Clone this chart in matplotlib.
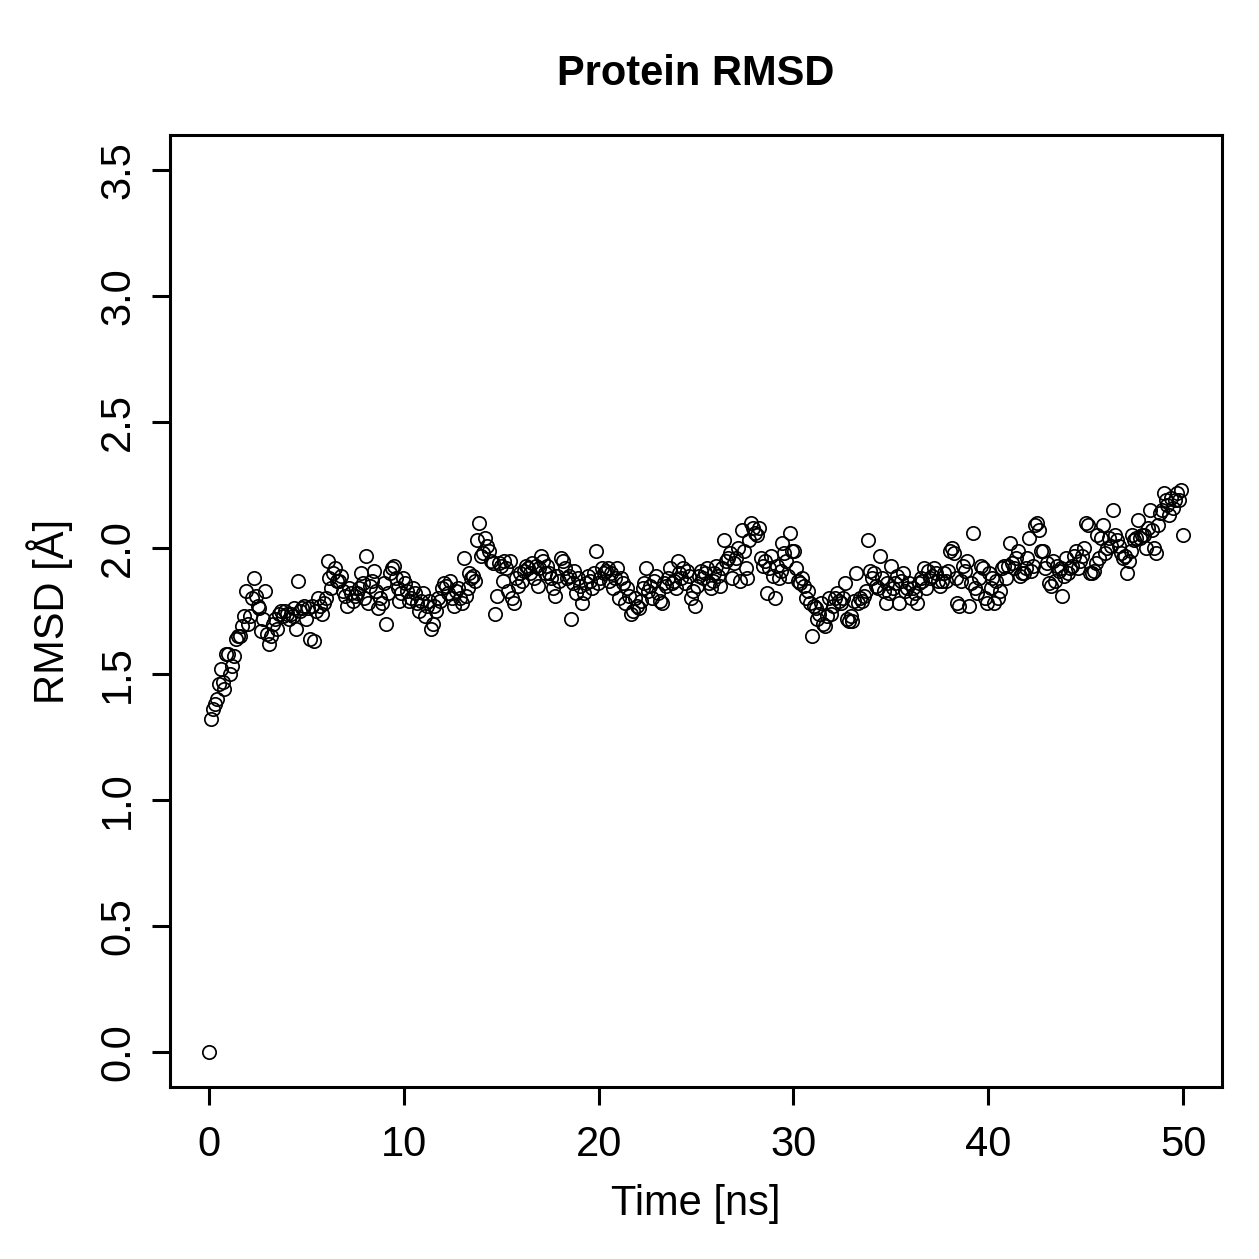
import numpy as np
import matplotlib
matplotlib.use('Agg')
import matplotlib.pyplot as plt

plt.rcParams['font.family'] = ['Liberation Sans', 'DejaVu Sans']

# RMSD values (Angstrom), one frame every 0.1 ns
rmsd = [0.00,
    1.32, 1.36, 1.38, 1.40, 1.46, 1.52, 1.47, 1.44, 1.58, 1.58,
    1.50, 1.53, 1.57, 1.64, 1.65, 1.65, 1.69, 1.73, 1.83, 1.70,
    1.73, 1.80, 1.88, 1.81, 1.77, 1.76, 1.67, 1.72, 1.83, 1.66,
    1.62, 1.65, 1.70, 1.72, 1.68, 1.74, 1.75, 1.73, 1.75, 1.74,
    1.72, 1.74, 1.73, 1.76, 1.68, 1.87, 1.75, 1.76, 1.77, 1.72,
    1.76, 1.64, 1.77, 1.63, 1.75, 1.80, 1.77, 1.74, 1.78, 1.80,
    1.95, 1.88, 1.84, 1.90, 1.92, 1.87, 1.87, 1.89, 1.83, 1.81,
    1.77, 1.84, 1.82, 1.79, 1.81, 1.82, 1.84, 1.90, 1.86, 1.80,
    1.97, 1.78, 1.85, 1.87, 1.91, 1.83, 1.76, 1.80, 1.78, 1.86,
    1.70, 1.82, 1.90, 1.92, 1.93, 1.88, 1.84, 1.79, 1.82, 1.88,
    1.86, 1.83, 1.79, 1.80, 1.84, 1.82, 1.78, 1.75, 1.79, 1.82,
    1.73, 1.77, 1.79, 1.68, 1.70, 1.77, 1.75, 1.80, 1.79, 1.84,
    1.86, 1.85, 1.82, 1.87, 1.80, 1.77, 1.83, 1.84, 1.80, 1.78,
    1.96, 1.81, 1.84, 1.90, 1.88, 1.89, 1.87, 2.03, 2.10, 1.97,
    1.98, 2.04, 2.01, 1.99, 1.95, 1.94, 1.74, 1.81, 1.94, 1.93,
    1.87, 1.95, 1.92, 1.83, 1.95, 1.80, 1.78, 1.88, 1.85, 1.90,
    1.87, 1.91, 1.93, 1.92, 1.90, 1.94, 1.88, 1.93, 1.85, 1.92,
    1.97, 1.95, 1.90, 1.93, 1.90, 1.88, 1.84, 1.81, 1.89, 1.87,
    1.96, 1.95, 1.92, 1.88, 1.89, 1.72, 1.86, 1.91, 1.82, 1.88,
    1.85, 1.78, 1.82, 1.86, 1.89, 1.87, 1.84, 1.90, 1.99, 1.86,
    1.88, 1.92, 1.90, 1.91, 1.92, 1.87, 1.90, 1.84, 1.88, 1.92,
    1.80, 1.88, 1.86, 1.78, 1.84, 1.81, 1.74, 1.75, 1.80, 1.77,
    1.76, 1.79, 1.84, 1.86, 1.92, 1.83, 1.85, 1.80, 1.87, 1.89,
    1.82, 1.79, 1.78, 1.86, 1.85, 1.88, 1.92, 1.86, 1.87, 1.84,
    1.95, 1.90, 1.88, 1.92, 1.86, 1.91, 1.89, 1.80, 1.83, 1.77,
    1.85, 1.89, 1.91, 1.88, 1.90, 1.92, 1.86, 1.84, 1.87, 1.90,
    1.93, 1.89, 1.85, 1.92, 2.03, 1.95, 1.96, 1.98, 1.88, 1.94,
    1.96, 2.00, 1.87, 2.07, 1.99, 1.92, 1.88, 2.03, 2.10, 2.08,
    2.06, 2.05, 2.08, 1.96, 1.93, 1.95, 1.82, 1.92, 1.97, 1.89,
    1.80, 1.93, 1.88, 1.91, 2.02, 1.98, 1.95, 1.89, 2.06, 1.99,
    1.99, 1.92, 1.87, 1.86, 1.88, 1.85, 1.80, 1.83, 1.78, 1.65,
    1.77, 1.76, 1.72, 1.74, 1.78, 1.70, 1.69, 1.73, 1.80, 1.74,
    1.77, 1.80, 1.82, 1.79, 1.78, 1.80, 1.86, 1.72, 1.71, 1.73,
    1.71, 1.79, 1.90, 1.78, 1.80, 1.79, 1.81, 1.83, 2.03, 1.91,
    1.88, 1.90, 1.85, 1.84, 1.97, 1.88, 1.83, 1.78, 1.86, 1.82,
    1.93, 1.84, 1.86, 1.89, 1.78, 1.87, 1.90, 1.83, 1.84, 1.86,
    1.80, 1.84, 1.82, 1.78, 1.86, 1.88, 1.87, 1.92, 1.84, 1.91,
    1.88, 1.89, 1.92, 1.90, 1.87, 1.85, 1.87, 1.90, 1.87, 1.91,
    1.99, 2.00, 1.98, 1.88, 1.78, 1.77, 1.87, 1.93, 1.91, 1.95,
    1.77, 1.86, 2.06, 1.84, 1.82, 1.88, 1.93, 1.92, 1.80, 1.78,
    1.90, 1.84, 1.88, 1.78, 1.87, 1.80, 1.83, 1.92, 1.93, 1.88,
    1.93, 2.02, 1.94, 1.92, 1.96, 1.99, 1.89, 1.90, 1.90, 1.92,
    1.96, 2.04, 1.91, 1.93, 2.09, 2.10, 2.07, 1.99, 1.99, 1.92,
    1.94, 1.86, 1.85, 1.95, 1.87, 1.93, 1.91, 1.92, 1.81, 1.89,
    1.96, 1.90, 1.92, 1.93, 1.97, 1.99, 1.92, 1.95, 1.97, 2.00,
    2.10, 2.09, 1.90, 1.90, 1.91, 1.94, 2.05, 1.96, 2.04, 2.09,
    1.98, 2.00, 2.04, 2.01, 2.15, 2.05, 2.03, 2.01, 1.98, 1.96,
    1.97, 1.90, 1.95, 1.99, 2.05, 2.03, 2.04, 2.11, 2.04, 2.05,
    2.05, 2.00, 2.08, 2.15, 2.07, 2.00, 1.98, 2.09, 2.14, 2.15,
    2.22, 2.19, 2.17, 2.13, 2.20, 2.16, 2.19, 2.22, 2.19, 2.23,
    2.05]
time_ns = np.linspace(0, 50, len(rmsd))

x_ticks = [0, 10, 20, 30, 40, 50]
y_ticks = [0.0, 0.5, 1.0, 1.5, 2.0, 2.5, 3.0, 3.5]

fig = plt.figure(figsize=(12.59, 12.59), dpi=100)
ax = fig.add_axes([0.135, 0.1366, 0.8356, 0.7562])

ax.plot(time_ns, rmsd, linestyle='none', marker='o', markersize=9.6,
        markerfacecolor='none', markeredgecolor='black', markeredgewidth=1.25)

# R style limits: 4% padding on each side
ax.set_xlim(-2, 52)
ax.set_ylim(-0.14, 3.64)
ax.set_xticks(x_ticks)
ax.set_xticklabels([str(t) for t in x_ticks])
ax.set_yticks(y_ticks)
ax.set_yticklabels(['%.1f' % v for v in y_ticks], rotation=90, va='center')

ax.tick_params(direction='out', length=13, width=2.2, labelsize=30, colors='black')
ax.tick_params(axis='x', pad=14)
ax.tick_params(axis='y', pad=10)
for s in ax.spines.values():
    s.set_linewidth(2.2)

ax.set_xlabel('Time [ns]', fontsize=30, labelpad=14)
ax.set_ylabel('RMSD [Å]', fontsize=30, labelpad=18)
ax.set_title('Protein RMSD', fontsize=30, fontweight='bold', pad=36)

fig.savefig('out.png', dpi=100)
